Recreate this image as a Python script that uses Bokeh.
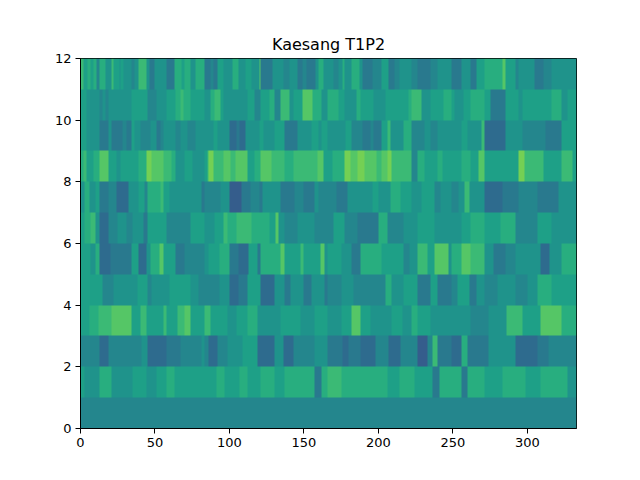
import numpy as np
from bokeh.embed import file_html
from bokeh.models import LinearColorMapper, Range1d, FixedTicker
from bokeh.palettes import Viridis256
from bokeh.plotting import figure
from bokeh.resources import INLINE

N_COLS = 333
X_TICKS = [0, 50, 100, 150, 200, 250, 300]
Y_TICKS = [0, 2, 4, 6, 8, 10, 12]

# each row: "level count" runs, left to right
# levels 0..9, a (a = brightest)
ROW_00 = "4 333"
ROW_01 = ("6 3,5 10,7 8,5 14,6 9,5 7,6 7,7 5,6 20,"
          "6 8,7 6,6 10,7 5,6 9,7 9,6 7,7 20,3 5,7 4,"
          "8 9,7 31,6 8,7 10,6 12,3 5,7 8,"
          "7 7,3 4,7 11,6 12,7 16,6 10,7 18,5 6")
ROW_02 = ("4 13,2 6,4 22,5 4,2 13,3 9,4 14,5 2,"
          "4 3,2 6,4 7,5 10,6 10,2 11,5 6,2 7,4 14,5 9,"
          "3 10,2 4,3 8,2 10,4 9,2 8,4 11,1 7,4 3,8 4,3 9,"
          "2 7,7 4,3 14,5 18,2 15,3 7,4 19")
ROW_03 = ("6 6,7 6,8 9,9 13,6 6,8 4,6 12,8 2,6 7,8 5,9 4,6 9,"
          "8 4,6 12,5 6,6 7,7 7,5 15,6 14,5 9,6 9,"
          "5 9,6 7,9 6,6 7,5 14,6 7,5 6,7 4,6 9,5 14,"
          "5 13,4 12,5 12,8 11,6 12,9 14,7 10")
ROW_04 = ("6 15,4 7,5 16,6 7,4 3,5 12,6 14,5 5,4 4,"
          "4 10,5 7,2 6,3 6,6 9,2 9,5 7,3 4,5 9,3 5,5 9,3 2,"
          "4 9,5 8,4 8,4 14,7 4,5 8,6 9,3 9,6 5,3 9,"
          "4 4,6 8,3 5,5 5,4 9,5 12,4 8,5 7,7 9,6 17")
ROW_05 = ("6 7,5 3,7 3,2 7,3 14,6 5,2 5,5 3,7 6,9 3,6 8,3 6,4 13,"
          "5 3,6 7,7 7,3 6,2 7,6 6,3 2,7 13,9 3,6 11,8 2,6 11,9 3,5 2,"
          "6 9,5 7,3 6,7 14,6 15,4 4,5 5,8 7,6 5,9 9,5 2,"
          "7 7,9 6,8 5,8 4,5 6,3 8,4 7,5 17,2 6,5 8,7 10")
ROW_06 = ("6 3,7 4,8 3,5 3,2 6,4 6,5 6,4 4,5 7,3 3,6 13,4 16,6 9,"
          "5 7,6 6,8 3,7 6,8 10,7 12,6 4,9 2,5 4,4 9,5 11,4 9,"
          "4 4,6 7,4 9,3 14,7 6,4 11,5 9,6 12,5 11,"
          "5 7,6 6,7 9,6 11,7 10,4 15,6 9,5 17")
ROW_07 = ("5 3,7 3,5 4,6 3,3 6,4 5,2 8,5 7,6 4,4 2,7 9,8 2,6 4,5 21,3 2,"
          "4 11,5 6,1 8,3 6,4 6,3 2,5 12,3 10,4 6,3 7,5 3,4 6,"
          "4 6,3 7,5 17,6 4,5 8,7 7,6 7,5 7,6 9,4 4,5 7,"
          "4 5,5 4,8 3,5 10,2 12,3 11,4 13,3 14,5 12")
ROW_08 = ("7 2,8 2,6 5,7 4,9 6,6 5,5 3,6 7,6 5,7 5,a 4,9 8,8 5,7 3,5 6,6 5,5 8,"
          "6 2,8 1,a 3,8 7,9 5,8 3,9 8,6 5,7 4,9 7,8 9,7 6,8 7,8 9,9 4,6 3,"
          "6 3,7 8,a 4,9 5,a 5,9 8,8 3,9 4,a 3,8 13,4 4,7 5,6 9,7 3,6 6,"
          "6 7,7 6,6 5,9 4,6 23,a 4,8 13,6 12,8 7,6 3")
ROW_09 = ("6 4,5 9,3 6,5 2,3 7,4 3,3 3,6 2,5 4,4 7,5 4,3 3,4 2,5 8,4 3,5 5,4 5,5 6,"
          "5 6,6 3,5 8,2 5,3 2,2 4,5 9,6 3,5 7,6 7,3 9,5 9,6 5,5 2,6 4,"
          "5 12,6 4,4 7,3 6,4 2,3 5,6 4,8 2,5 9,7 5,4 9,5 4,4 5,5 9,"
          "5 7,6 4,5 9,8 2,2 14,5 12,4 15,3 11,6 10")
ROW_10 = ("6 4,5 9,4 2,5 2,4 2,5 3,5 12,6 11,4 6,5 7,6 6,7 3,8 2,7 5,6 9,"
          "5 4,7 3,8 4,6 2,5 16,6 5,4 4,6 6,7 3,4 4,8 6,5 3,6 6,9 7,7 6,5 4,"
          "7 7,6 4,5 8,7 3,6 9,5 8,6 15,7 2,8 7,5 6,6 9,7 5,"
          "6 2,5 6,6 5,7 9,6 4,3 10,6 9,5 3,6 12,6 7,7 7,5 4,6 6")
ROW_11 = ("8 2,6 3,7 2,6 2,7 2,4 2,7 4,5 4,8 1,6 4,5 1,6 2,5 5,4 2,5 3,8 5,5 2,3 4,5 8,3 5,7 5,6 2,7 4,5 3,7 6,"
          "3 4,4 2,3 3,6 4,5 6,7 4,5 5,6 4,5 5,9 1,3 8,5 7,4 4,5 6,3 3,4 3,3 6,5 2,7 3,5 3,"
          "5 4,4 3,5 3,7 1,5 5,7 5,5 2,3 7,4 6,6 5,3 4,4 3,5 8,4 4,3 9,4 5,5 9,"
          "3 7,5 6,3 4,6 5,7 12,9 2,6 7,4 2,5 11,3 6,4 5,5 17")

ROWS = [ROW_00, ROW_01, ROW_02, ROW_03, ROW_04, ROW_05,
        ROW_06, ROW_07, ROW_08, ROW_09, ROW_10, ROW_11]


def expand(runs):
    levels, counts = [], []
    for part in runs.split(","):
        lv, n = part.split()
        levels.append(int(lv, 16))
        counts.append(int(n))
    row = np.repeat(levels, counts).astype(float)
    if len(row) < N_COLS:
        row = np.concatenate([row, np.full(N_COLS - len(row), row[-1])])
    return row[:N_COLS]


grid = np.array([expand(r) for r in ROWS])
values = 0.24 + 0.055 * grid

mapper = LinearColorMapper(palette=Viridis256, low=0.0, high=1.0)

p = figure(width=632, height=472, output_backend="svg", toolbar_location=None,
           x_range=Range1d(0, N_COLS), y_range=Range1d(0, 12),
           min_border_left=80, min_border_right=56,
           min_border_top=58, min_border_bottom=44,
           title="Kaesang T1P2")
p.image(image=[values], x=0, y=0, dw=N_COLS, dh=12, color_mapper=mapper)

p.title.align = "center"
p.title.text_font = "DejaVu Sans"
p.title.text_font_size = "16px"
p.title.text_font_style = "normal"
p.title.text_color = "black"

p.grid.visible = False
p.outline_line_color = "black"
p.outline_line_width = 1
p.background_fill_color = "white"

for ax, ticks in ((p.xaxis, X_TICKS), (p.yaxis, Y_TICKS)):
    ax.ticker = FixedTicker(ticks=ticks)
    ax.major_tick_in = 0
    ax.major_tick_out = 5
    ax.minor_tick_line_color = None
    ax.axis_line_color = "black"
    ax.major_tick_line_color = "black"
    ax.major_label_text_font = "DejaVu Sans"
    ax.major_label_text_font_size = "13px"
    ax.major_label_text_color = "black"
    ax.major_label_standoff = 4

open("out.html", "w").write(file_html(p, INLINE))
